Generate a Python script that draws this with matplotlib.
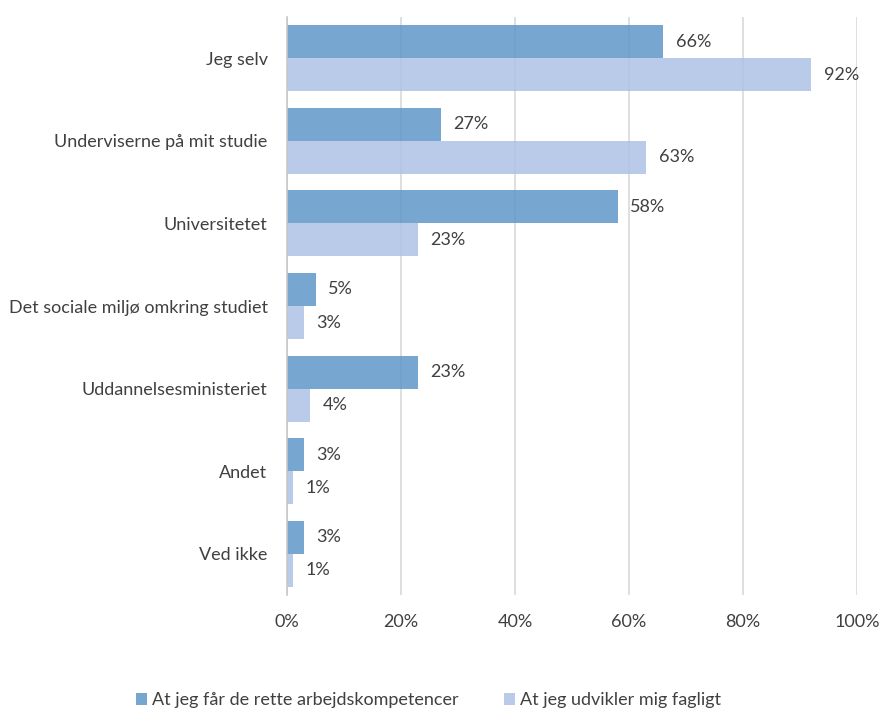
import matplotlib
matplotlib.use("Agg")
import matplotlib.pyplot as plt
import numpy as np
from matplotlib.patches import Patch

plt.rcParams['font.family'] = ['Lato', 'DejaVu Sans']

categories = ["Jeg selv", "Underviserne på mit studie", "Universitetet",
              "Det sociale miljø omkring studiet", "Uddannelsesministeriet",
              "Andet", "Ved ikke"]
series_names = ["At jeg får de rette arbejdskompetencer", "At jeg udvikler mig fagligt"]
arbejdskompetencer = [66, 27, 58, 5, 23, 3, 3]
fagligt = [92, 63, 23, 3, 4, 1, 1]
x_ticks = [0, 20, 40, 60, 80, 100]

dark = "#5f97c9"
light = "#adc2e4"
text_col = "#404040"
fs = 13

fig = plt.figure(figsize=(8.8, 7.09), dpi=100)
ax = fig.add_axes([287 / 880, 1 - 595 / 709, 570 / 880, 578 / 709])

y = np.arange(len(categories))
h = 0.4
b1 = ax.barh(y - h / 2, arbejdskompetencer, height=h, color=dark, alpha=0.85, zorder=3)
b2 = ax.barh(y + h / 2, fagligt, height=h, color=light, alpha=0.85, zorder=3)

for bars, vals in ((b1, arbejdskompetencer), (b2, fagligt)):
    for bar, v in zip(bars, vals):
        ax.annotate(f"{v}%", (v, bar.get_y() + bar.get_height() / 2),
                    xytext=(9, 0), textcoords="offset points",
                    va="center", ha="left", fontsize=fs, color=text_col)

ax.set_xlim(0, 100)
ax.set_ylim(len(categories) - 0.5, -0.5)
ax.set_xticks(x_ticks)
ax.set_xticklabels([f"{t}%" for t in x_ticks], fontsize=fs, color=text_col)
ax.set_yticks(y)
ax.set_yticklabels(categories, fontsize=fs, color=text_col)
ax.tick_params(axis="both", length=0)
ax.tick_params(axis="x", pad=14)
ax.tick_params(axis="y", pad=14)
ax.grid(axis="x", color="#d9d9d9", linewidth=1.2, zorder=1)
for s in ("top", "right", "bottom"):
    ax.spines[s].set_visible(False)
ax.spines["left"].set_color("#c8c8c8")
ax.spines["left"].set_linewidth(1.2)
ax.spines["left"].set_zorder(4)

handles = [Patch(facecolor=dark, alpha=0.85), Patch(facecolor=light, alpha=0.85)]
fig.legend(handles, series_names, loc="center", bbox_to_anchor=(0.487, 0.012),
           ncol=2, frameon=False, fontsize=fs, handlelength=0.6, handleheight=0.6,
           handletextpad=0.3, columnspacing=2.5, labelcolor=text_col)

fig.savefig("out.png", dpi=100)
